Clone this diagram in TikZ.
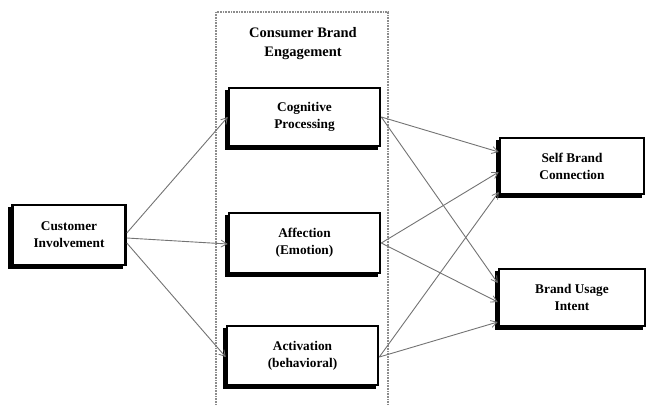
\documentclass[tikz,border=0pt]{standalone}
\usepackage{fontspec}
\setmainfont{Liberation Serif}
\usetikzlibrary{arrows.meta}
\begin{document}
\begin{tikzpicture}[x=1pt,y=-1pt,
  box/.style={draw=black, line width=2.6pt, fill=white, inner sep=0pt, align=center,
    font=\fontsize{13.3}{17}\selectfont\bfseries},
  conn/.style={draw=black!55, line width=0.9pt, -{Straight Barb[length=6pt,width=7pt,line width=0.8pt]}},
  container/.style={draw=black!45, line width=1.4pt, dash pattern=on 1pt off 0.6pt}]
\useasboundingbox (0,0) rectangle (647,405);
% container
\draw[container] (216,405) -- (216,12) -- (388,12) -- (388,405);
\node[font=\fontsize{14.5}{19}\selectfont\bfseries, align=center] (title) at (303,44) {Consumer Brand\\Engagement};
% shadows
\fill[black] (8,207) rectangle (123,269);
\fill[black] (225,90) rectangle (378,150);
\fill[black] (225,215) rectangle (378,277);
\fill[black] (223,328) rectangle (376,389);
\fill[black] (496,140) rectangle (642,198);
\fill[black] (495,271) rectangle (643,330);
% boxes
\node[box, minimum width=113pt, minimum height=60pt] (ci) at (69,235) {Customer\\Involvement};
\node[box, minimum width=151pt, minimum height=58pt] (cog) at (304.5,117) {Cognitive\\Processing};
\node[box, minimum width=151pt, minimum height=60pt] (aff) at (304.5,243) {Affection\\(Emotion)};
\node[box, minimum width=151pt, minimum height=59pt] (act) at (302.5,355.5) {Activation\\(behavioral)};
\node[box, minimum width=144pt, minimum height=56pt] (sbc) at (572,166) {Self Brand\\Connection};
\node[box, minimum width=146pt, minimum height=57pt] (bui) at (572,297.5) {Brand Usage\\Intent};
% connectors
\draw[conn] ([yshift=2pt]ci.east) -- (cog.west);
\draw[conn] ([yshift=-3pt]ci.east) -- ([yshift=-1pt]aff.west);
\draw[conn] ([yshift=-8pt]ci.east) -- ([yshift=-1.5pt]act.west);
\draw[conn] (cog.east) -- ([yshift=14pt]sbc.west);
\draw[conn] (cog.east) -- ([yshift=14.5pt]bui.west);
\draw[conn] (aff.east) -- ([yshift=-6pt]sbc.west);
\draw[conn] (aff.east) -- ([yshift=-4.5pt]bui.west);
\draw[conn] ([yshift=-1.5pt]act.east) -- ([yshift=-26pt]sbc.west);
\draw[conn] ([yshift=-1.5pt]act.east) -- ([yshift=-24.5pt]bui.west);
\end{tikzpicture}
\end{document}
